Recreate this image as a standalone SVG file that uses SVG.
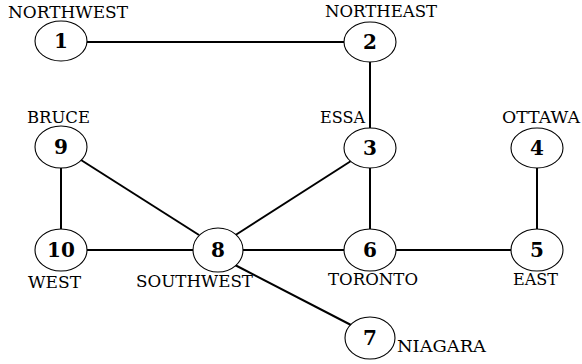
<svg xmlns="http://www.w3.org/2000/svg" width="582" height="364" viewBox="0 0 582 364">
<style>
.edge{stroke:#000;stroke-width:2;fill:none}
.node ellipse{fill:#fff;stroke:#000;stroke-width:1.1}
text{font-family:'DejaVu Serif','Liberation Serif',serif;fill:#000}
.num{font-weight:bold;font-size:20px;text-anchor:middle}
.lbl{font-size:16px}
</style>
<rect width="582" height="364" fill="#fff"/>
<g id="edges">
<line class="edge" x1="87" y1="42" x2="344" y2="42"/>
<line class="edge" x1="370" y1="62" x2="370" y2="128"/>
<line class="edge" x1="370" y1="168" x2="370" y2="229"/>
<line class="edge" x1="537" y1="168" x2="537" y2="229"/>
<line class="edge" x1="61" y1="167" x2="61" y2="230"/>
<line class="edge" x1="87" y1="250" x2="193" y2="250"/>
<line class="edge" x1="243" y1="250" x2="345" y2="250"/>
<line class="edge" x1="396" y1="250" x2="511" y2="250"/>
<line class="edge" x1="81" y1="160" x2="199" y2="235"/>
<line class="edge" x1="351" y1="161" x2="234" y2="236"/>
<line class="edge" x1="235" y1="265" x2="351" y2="325"/>
</g>
<g id="n1" class="node"><ellipse cx="61" cy="41" rx="26" ry="20"/><text class="num" x="61" y="48">1</text><text class="lbl" x="8" y="18" textLength="120" lengthAdjust="spacingAndGlyphs">NORTHWEST</text></g>
<g id="n2" class="node"><ellipse cx="370" cy="42" rx="26" ry="20"/><text class="num" x="370" y="49">2</text><text class="lbl" x="325" y="17" textLength="112" lengthAdjust="spacingAndGlyphs">NORTHEAST</text></g>
<g id="n3" class="node"><ellipse cx="370" cy="148" rx="26" ry="20"/><text class="num" x="370" y="155">3</text><text class="lbl" x="320" y="123" textLength="45" lengthAdjust="spacingAndGlyphs">ESSA</text></g>
<g id="n4" class="node"><ellipse cx="537" cy="148" rx="26" ry="20"/><text class="num" x="537" y="155">4</text><text class="lbl" x="502" y="123" textLength="78" lengthAdjust="spacingAndGlyphs">OTTAWA</text></g>
<g id="n5" class="node"><ellipse cx="537" cy="250" rx="26" ry="21"/><text class="num" x="537" y="257">5</text><text class="lbl" x="513" y="285" textLength="45" lengthAdjust="spacingAndGlyphs">EAST</text></g>
<g id="n6" class="node"><ellipse cx="370" cy="250" rx="26" ry="21"/><text class="num" x="370" y="257">6</text><text class="lbl" x="328" y="285" textLength="90" lengthAdjust="spacingAndGlyphs">TORONTO</text></g>
<g id="n7" class="node"><ellipse cx="370" cy="338" rx="25" ry="21"/><text class="num" x="370" y="345">7</text><text class="lbl" x="397" y="352" textLength="89" lengthAdjust="spacingAndGlyphs">NIAGARA</text></g>
<g id="n8" class="node"><ellipse cx="218" cy="250" rx="25" ry="22"/><text class="num" x="218" y="257">8</text><text class="lbl" x="136" y="287" textLength="117" lengthAdjust="spacingAndGlyphs">SOUTHWEST</text></g>
<g id="n9" class="node"><ellipse cx="61" cy="147" rx="26" ry="21"/><text class="num" x="61" y="154">9</text><text class="lbl" x="27" y="123" textLength="63" lengthAdjust="spacingAndGlyphs">BRUCE</text></g>
<g id="n10" class="node"><ellipse cx="61" cy="250" rx="26" ry="21"/><text class="num" x="61" y="257">10</text><text class="lbl" x="28" y="288" textLength="53" lengthAdjust="spacingAndGlyphs">WEST</text></g>
</svg>
